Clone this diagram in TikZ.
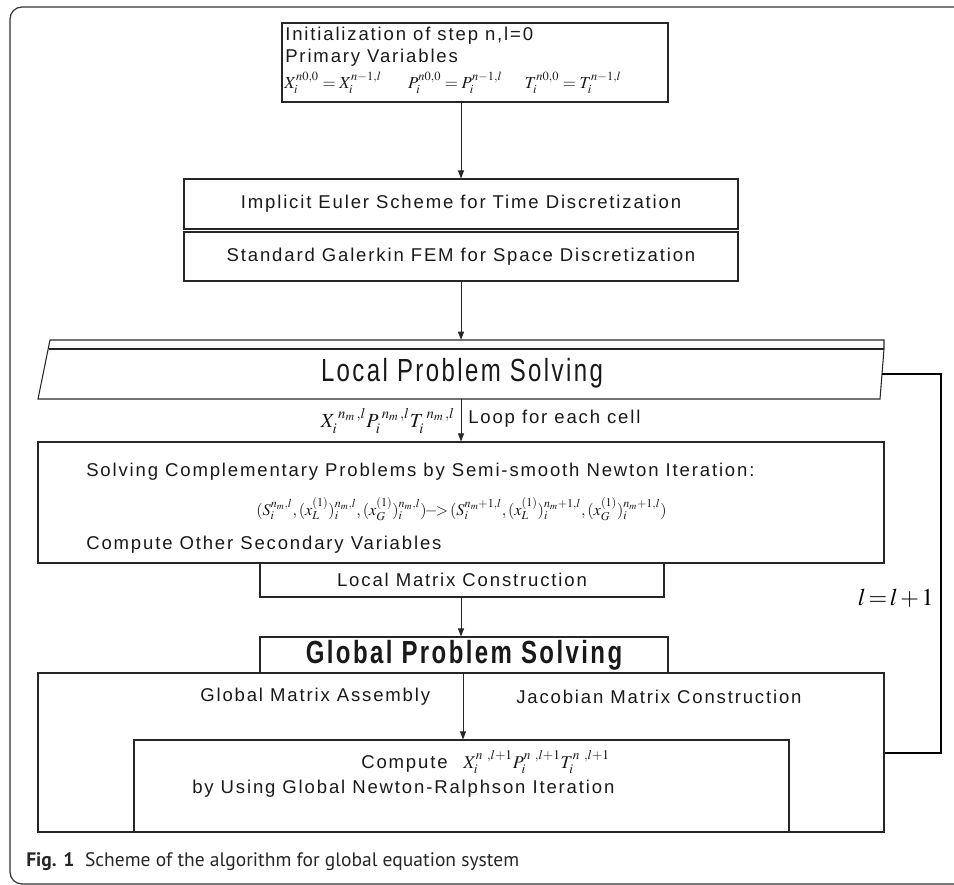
\documentclass[tikz,border=0pt]{standalone}
\usepackage{mathptmx}
\usepackage[no-math]{fontspec}
\setmainfont[LetterSpace=10]{Liberation Sans}
\newfontfamily\titlefont[LetterSpace=10]{Liberation Sans}
\newfontfamily\capfont{PT Sans}
\usetikzlibrary{arrows.meta,fit}
\begin{document}
\begin{tikzpicture}[x=0.75pt,y=-0.75pt,
  box/.style={draw=black!85,line width=0.8pt,inner sep=0pt},
  arr/.style={draw=black!85,line width=0.75pt,-{Triangle[length=6pt,width=4.5pt]}},
  loopline/.style={draw=black,line width=1.9pt},
  txt/.style={inner sep=0pt,text=black!90,font=\fontsize{13.9}{17}\selectfont},
  ttl/.style={inner sep=0pt,text=black!90,font=\titlefont\fontsize{24}{27}\selectfont},
  mth/.style={inner sep=0pt,text=black!90,font=\fontsize{13.5}{16}\selectfont}]
\useasboundingbox (0,0) rectangle (954,885);
% outer frame
\draw[black!80,line width=0.9pt,rounded corners=9pt] (960,7) -- (10,7) -- (10,884) -- (960,884);
\coordinate (ax) at (461,0);
\coordinate (bx) at (463,0);
% init box
\node[box,fit={(282,23)(668,102)}] (init) {};
\node[txt,anchor=west] (t1) at (285,36) {Initialization of step n,l=0};
\node[txt,anchor=west] (t2) at (285,58) {Primary Variables};
\node[mth,anchor=west,font=\fontsize{12.6}{15}\selectfont] (t3) at (284,83) {$X_i^{n0,0}=X_i^{n-1,l}\hspace{20pt}P_i^{n0,0}=P_i^{n-1,l}\hspace{17pt}T_i^{n0,0}=T_i^{n-1,l}$};
% euler / galerkin
\node[box,fit={(184,179)(738,229)}] (euler) {};
\node[txt] (t4) at (461,204) {Implicit Euler Scheme for Time Discretization};
\node[box,fit={(184,232)(738,281)}] (galer) {};
\node[txt] (t5) at (461,257) {Standard Galerkin FEM for Space Discretization};
\draw[arr] (init.south -| ax) -- (euler.north -| ax);
% local problem solving
\node[inner sep=0pt,fit={(38,340)(884,399)}] (local) {};
\draw[box] (50,340) -- (884,340) -- (884,349) -- (880,399) -- (38,399) -- cycle;
\draw[box] (48.5,349) -- (884,349);
\node[ttl] (t6) at (462,373) {\scalebox{0.75}[1]{Local Problem Solving}};
\draw[arr] (galer.south -| ax) -- (local.north -| ax);
% loop
\coordinate (lstart) at (882,374);
\coordinate (lc1) at (941,374);
\coordinate (lc2) at (941,753);
% solving box
\node[box,fit={(38,442)(884,563)}] (solve) {};
\draw[arr] (local.south -| ax) -- (solve.north -| ax);
\node[mth,anchor=east,font=\fontsize{15}{17}\selectfont] (t7) at (455,421) {$X_i^{\;n_m\,,l}P_i^{\;n_m\,,l}T_i^{\;n_m\,,l}$};
\node[txt,anchor=west] (t8) at (468,419) {Loop for each cell};
\node[txt,anchor=west] (t9) at (86,472) {Solving Complementary Problems by Semi-smooth Newton Iteration:};
\node[mth,anchor=west,font=\fontsize{12.2}{15}\selectfont] (t10) at (256,509) {$(S_i^{n_m,l},(x_L^{(1)})_i^{n_m,l},(x_G^{(1)})_i^{n_m,l})\!-\!\!\!>\!(S_i^{n_m+1,l},(x_L^{(1)})_i^{n_m+1,l},(x_G^{(1)})_i^{n_m+1,l})$};
\node[txt,anchor=west] (t11) at (86,545) {Compute Other Secondary Variables};
% local matrix
\node[box,fit={(260,563)(664,597)}] (lmc) {};
\node[txt] (t12) at (462,580) {Local Matrix Construction};
% global
\node[box,fit={(38,673)(884,832)}] (gout) {};
\node[box,fit={(260,637)(668,673)}] (gps) {};
\node[ttl,font=\titlefont\bfseries\fontsize{24}{27}\selectfont] (t13) at (464,655) {\scalebox{0.75}[1]{Global Problem Solving}};
\draw[arr] (lmc.south -| ax) -- (gps.north -| ax);
\node[box,fit={(134,740)(789,832)}] (comp) {};
\draw[arr] (gps.south -| bx) -- (comp.north -| bx);
\node[txt,anchor=west] (t14) at (200,697) {Global Matrix Assembly};
\node[txt,anchor=west] (t15) at (516,697) {Jacobian Matrix Construction};
\node[txt,anchor=west] (t16) at (361,764) {Compute};
\node[mth,anchor=west] (t17) at (463,762) {$X_i^{n\;\,,l+1}P_i^{n\;\,,l+1}T_i^{n\;\,,l+1}$};
\node[txt,anchor=west] (t18) at (192,789) {by Using Global Newton-Ralphson Iteration};
% loop line
\draw[loopline] (lstart) -- (lc1) -- (lc2) -- (gout.east |- lc2);
\node[inner sep=0pt,anchor=east,font=\fontsize{18}{20}\selectfont] (lbl) at (934,598) {$l\,{=}\,l\,{+}\,1$};
% caption
\node[inner sep=0pt,anchor=west,font=\capfont\fontsize{14.65}{16}\selectfont,text=black!85] (cap) at (26,862) {\textbf{Fig. 1}\hspace{8pt}Scheme of the algorithm for global equation system};
\end{tikzpicture}
\end{document}
